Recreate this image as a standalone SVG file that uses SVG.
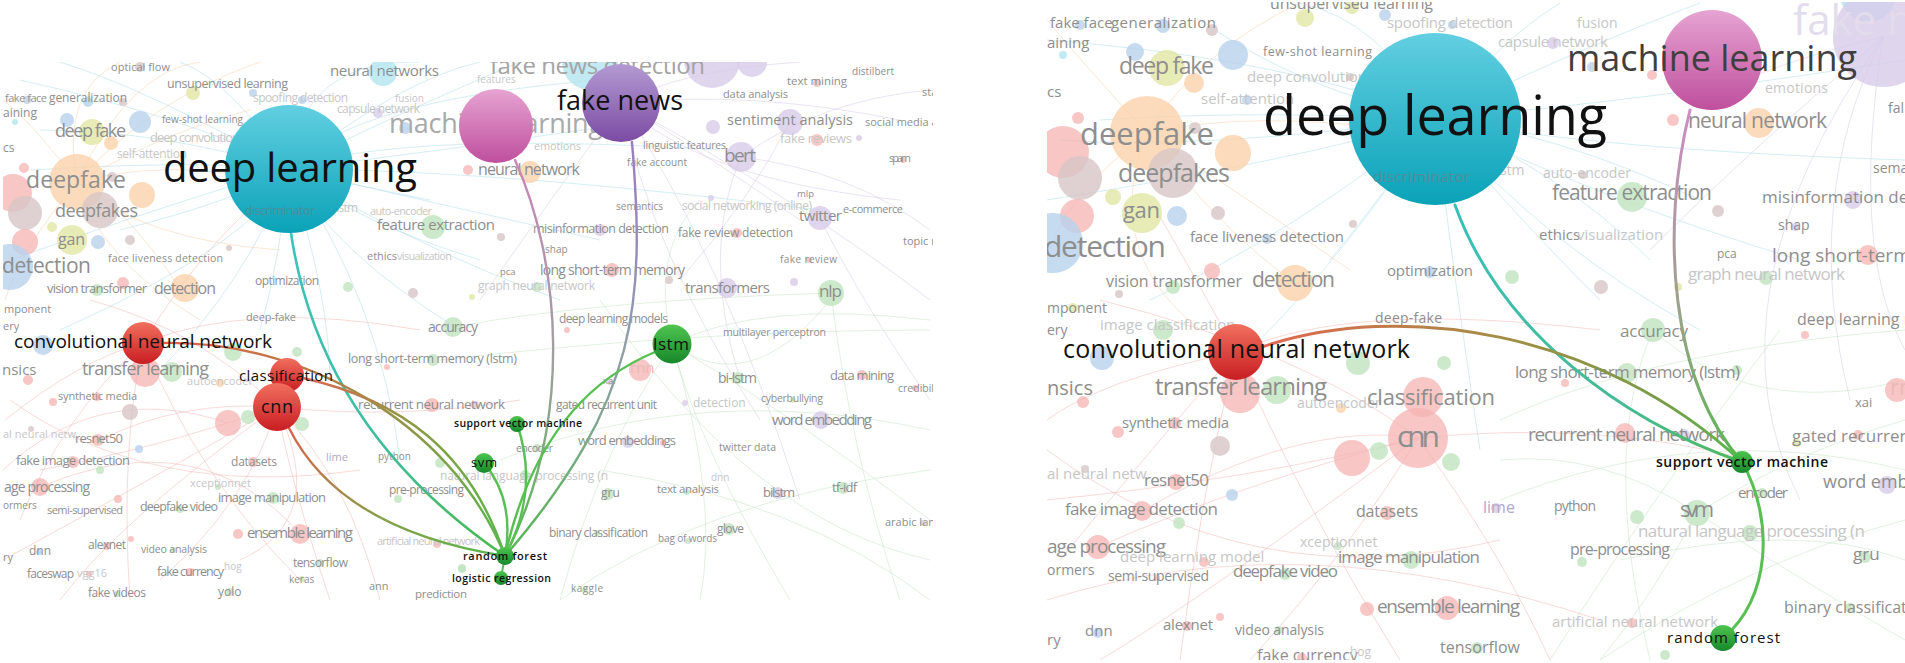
<svg xmlns="http://www.w3.org/2000/svg" width="1905" height="663" viewBox="0 0 1905 663">
<defs>
<style>
text{font-family:"Open Sans","Liberation Sans",sans-serif}
.f{fill:#8e8e8e}
.ff{fill:#c6c6c6}
.dt{fill:#4d8e98}
.k{fill:#111}
.ks{fill:#111;font-weight:600}
.bl path{fill:none;stroke-width:1;opacity:.5}
.lc{stroke:#a9dbe8}.lo{stroke:#f8cfa6}.lr{stroke:#f4b4b4}.lp{stroke:#d6c8e6}.lg{stroke:#c3e2c3}
.r{fill:#f4b3b1;opacity:.75}.o{fill:#fbcfa6;opacity:.75}.y{fill:#e1e6a2;opacity:.8}.b{fill:#b8d1ec;opacity:.8}
.p{fill:#d7cbe8;opacity:.8}.g{fill:#c1e4bf;opacity:.8}.br{fill:#d7c6c6;opacity:.8}.c{fill:#b3e5ef;opacity:.8}
.e{fill:none;stroke-linecap:round}
</style>
<clipPath id="cl"><rect x="3" y="62" width="930" height="538"/></clipPath>
<clipPath id="cr"><rect x="1047" y="2" width="858" height="658"/></clipPath>
<linearGradient id="gDL" x1="0" y1="0" x2="0" y2="1"><stop offset="0" stop-color="#62cfe1"/><stop offset="1" stop-color="#0aa2b8"/></linearGradient>
<linearGradient id="gML" x1="0" y1="0" x2="0" y2="1"><stop offset="0" stop-color="#e6a3d2"/><stop offset="1" stop-color="#bf4f9d"/></linearGradient>
<linearGradient id="gFN" x1="0" y1="0" x2="0" y2="1"><stop offset="0" stop-color="#b39ad2"/><stop offset="1" stop-color="#7b4ba3"/></linearGradient>
<linearGradient id="gR" x1="0" y1="0" x2="0" y2="1"><stop offset="0" stop-color="#f1705e"/><stop offset="1" stop-color="#c81d22"/></linearGradient>
<linearGradient id="gG" x1="0" y1="0" x2="0" y2="1"><stop offset="0" stop-color="#4fc44f"/><stop offset="1" stop-color="#16882a"/></linearGradient>
<linearGradient id="eDL" gradientUnits="userSpaceOnUse" x1="291" y1="233" x2="505" y2="556"><stop offset="0" stop-color="#3cc2bc"/><stop offset=".6" stop-color="#3fbd9c"/><stop offset="1" stop-color="#4cb84a"/></linearGradient>
<linearGradient id="eML" gradientUnits="userSpaceOnUse" x1="515" y1="160" x2="505" y2="556"><stop offset="0" stop-color="#c985b8"/><stop offset=".5" stop-color="#a0a0a0"/><stop offset="1" stop-color="#55b84f"/></linearGradient>
<linearGradient id="eFN" gradientUnits="userSpaceOnUse" x1="632" y1="142" x2="505" y2="556"><stop offset="0" stop-color="#9a7cc2"/><stop offset=".5" stop-color="#8fa0a8"/><stop offset="1" stop-color="#55b84f"/></linearGradient>
<linearGradient id="eCV" gradientUnits="userSpaceOnUse" x1="163" y1="343" x2="505" y2="556"><stop offset="0" stop-color="#e5614c"/><stop offset=".5" stop-color="#a08a45"/><stop offset="1" stop-color="#58b84c"/></linearGradient>
<linearGradient id="eCL" gradientUnits="userSpaceOnUse" x1="303" y1="378" x2="505" y2="556"><stop offset="0" stop-color="#df6450"/><stop offset=".4" stop-color="#8c9a44"/><stop offset="1" stop-color="#58b84c"/></linearGradient>
<linearGradient id="eCN" gradientUnits="userSpaceOnUse" x1="289" y1="428" x2="505" y2="556"><stop offset="0" stop-color="#d8664e"/><stop offset=".5" stop-color="#84a048"/><stop offset="1" stop-color="#58b84c"/></linearGradient>
<linearGradient id="fDL" gradientUnits="userSpaceOnUse" x1="1455" y1="205" x2="1742" y2="462"><stop offset="0" stop-color="#38c0b8"/><stop offset=".7" stop-color="#45ba90"/><stop offset="1" stop-color="#4fb85c"/></linearGradient>
<linearGradient id="fML" gradientUnits="userSpaceOnUse" x1="1690" y1="110" x2="1742" y2="462"><stop offset="0" stop-color="#cc8cc4"/><stop offset=".5" stop-color="#a0a090"/><stop offset="1" stop-color="#58b850"/></linearGradient>
<linearGradient id="fCN" gradientUnits="userSpaceOnUse" x1="1262" y1="347" x2="1742" y2="462"><stop offset="0" stop-color="#e0674f"/><stop offset=".45" stop-color="#a58c45"/><stop offset=".8" stop-color="#7a9a48"/><stop offset="1" stop-color="#58b850"/></linearGradient>
</defs>
<rect width="1905" height="663" fill="#fff"/>

<!-- LEFT PANEL BACKGROUND -->
<g id="left-bg" clip-path="url(#cl)">
<g class="bl">
<path class="lc" d="M289 169Q200 120 20 80M289 169Q180 200 10 260M289 169Q350 100 600 80M289 169Q400 130 720 150M289 169Q420 250 560 300M289 169Q250 280 150 380M289 169Q300 60 420 62M289 169Q150 90 60 62M289 169Q330 250 460 330M289 169Q500 170 820 210M289 169Q200 160 30 170M289 169Q380 300 400 460M289 169Q420 200 600 240M289 169Q230 80 180 62M289 169Q360 130 520 62M289 169Q260 240 60 330M289 169Q450 150 650 120M289 169Q350 220 480 260M289 169Q240 200 120 230M289 169Q330 180 430 200M289 169Q280 260 260 330M289 169Q400 80 480 62M289 169Q160 130 40 130M289 169Q330 300 330 380"/>
<path class="lo" d="M77 182Q150 100 260 62M77 182Q100 260 200 320M77 182Q200 150 330 200M77 182Q30 120 3 100M77 182Q140 240 280 250M77 182Q60 90 120 62M77 182Q170 130 250 110M77 182Q20 250 5 300M77 182Q120 200 180 288M77 182Q130 70 200 62"/>
<path class="lr" d="M143 343Q60 420 20 520M143 343Q200 480 300 580M277 407Q150 450 40 470M277 407Q250 500 160 580M277 407Q350 480 380 600M143 343Q250 300 420 330M277 407Q200 330 90 300M277 407Q330 520 240 560M10 400Q150 500 360 470M143 343Q80 360 5 420M277 407Q120 520 60 600M40 487Q200 420 300 534M3 560Q150 480 277 407M143 343Q200 250 260 200M277 407Q400 420 520 400M143 343Q120 450 130 600M277 407Q180 400 100 440M3 470Q100 380 228 423M277 407Q290 480 330 600"/>
<path class="lp" d="M621 103Q700 150 800 220M621 103Q750 90 900 120M621 103Q650 250 760 420M621 103Q800 200 930 300M621 103Q720 250 800 500M621 103Q550 200 480 300M741 157Q820 100 930 90M741 157Q700 250 740 380M820 218Q860 300 930 400M621 103Q680 70 800 62M790 122Q750 200 680 280M621 103Q700 180 900 200M741 157Q850 170 930 230"/>
<path class="lg" d="M672 344Q750 400 830 300M672 344Q760 300 930 320M672 344Q700 450 790 600M672 344Q600 450 560 600M672 344Q800 420 930 520M600 300Q750 520 930 560M440 360Q700 330 930 330M500 460Q700 380 930 430M831 293Q850 450 900 600M453 327Q600 300 831 293M672 344Q650 250 700 200M560 600Q700 500 930 470M672 344Q720 500 700 600M600 470Q800 500 930 600"/>
</g>
<circle class="br" cx="140" cy="67" r="5"/><circle class="y" cx="193" cy="93" r="7"/><circle class="b" cx="253" cy="93" r="4"/>
<circle class="c" cx="383" cy="72" r="14"/><circle class="b" cx="88" cy="102" r="5"/><circle class="br" cx="123" cy="102" r="4"/>
<circle class="b" cx="27" cy="100" r="4"/><circle class="b" cx="67" cy="120" r="7"/><circle class="b" cx="140" cy="122" r="11"/>
<circle class="c" cx="15" cy="122" r="3"/><circle class="y" cx="92" cy="132" r="13"/><circle class="o" cx="111" cy="143" r="7"/>
<circle class="r" cx="13" cy="193" r="19"/><circle class="br" cx="25" cy="213" r="17"/><circle class="o" cx="77" cy="182" r="28"/>
<circle class="o" cx="142" cy="195" r="13"/><circle class="br" cx="100" cy="210" r="18"/><circle class="r" cx="25" cy="242" r="13"/>
<circle class="y" cx="72" cy="240" r="15"/><circle class="b" cx="98" cy="242" r="7"/><circle class="y" cx="52" cy="227" r="5"/>
<circle class="br" cx="130" cy="240" r="5"/><circle class="b" cx="10" cy="267" r="23"/><circle class="r" cx="24" cy="168" r="5"/>
<circle class="br" cx="112" cy="177" r="5"/><circle class="o" cx="185" cy="288" r="14"/><circle class="r" cx="123" cy="283" r="6"/>
<circle class="g" cx="97" cy="290" r="6"/><circle class="g" cx="348" cy="287" r="5"/><circle class="br" cx="229" cy="248" r="3"/>
<circle class="br" cx="413" cy="293" r="5"/><circle class="g" cx="433" cy="227" r="12"/><circle class="p" cx="378" cy="113" r="5"/>
<circle class="b" cx="405" cy="128" r="6"/><circle class="r" cx="468" cy="170" r="5"/><circle class="b" cx="302" cy="100" r="4"/>
<circle class="br" cx="501" cy="237" r="4"/><circle class="o" cx="530" cy="172" r="11"/><circle class="p" cx="713" cy="127" r="7"/>
<circle class="p" cx="790" cy="122" r="13"/><circle class="p" cx="741" cy="157" r="15"/><circle class="r" cx="817" cy="83" r="4"/>
<circle class="r" cx="817" cy="140" r="6"/><circle class="p" cx="859" cy="138" r="3"/><circle class="r" cx="903" cy="160" r="3"/>
<circle class="p" cx="711" cy="198" r="3"/><circle class="p" cx="820" cy="218" r="12"/><circle class="p" cx="600" cy="230" r="6"/>
<circle class="r" cx="737" cy="233" r="5"/><circle class="r" cx="612" cy="270" r="7"/><circle class="br" cx="669" cy="280" r="4"/>
<circle class="g" cx="537" cy="287" r="5"/><circle class="y" cx="472" cy="297" r="3"/><circle class="p" cx="727" cy="288" r="10"/>
<circle class="p" cx="794" cy="282" r="4"/><circle class="g" cx="831" cy="293" r="13"/><circle class="r" cx="809" cy="260" r="3"/>
<circle class="p" cx="712" cy="60" r="28"/><circle class="p" cx="752" cy="62" r="15"/><circle class="c" cx="590" cy="62" r="28"/>
<circle class="b" cx="43" cy="345" r="10"/><circle class="g" cx="233" cy="352" r="9"/><circle class="g" cx="297" cy="352" r="5"/>
<circle class="r" cx="145" cy="372" r="15"/><circle class="g" cx="172" cy="372" r="10"/><circle class="r" cx="28" cy="380" r="5"/>
<circle class="o" cx="220" cy="383" r="4"/><circle class="r" cx="387" cy="367" r="3"/><circle class="g" cx="433" cy="360" r="6"/>
<circle class="r" cx="53" cy="402" r="4"/><circle class="r" cx="97" cy="397" r="4"/><circle class="br" cx="130" cy="412" r="8"/>
<circle class="r" cx="228" cy="423" r="13"/><circle class="g" cx="248" cy="417" r="7"/><circle class="g" cx="302" cy="424" r="7"/>
<circle class="r" cx="432" cy="405" r="7"/><circle class="br" cx="31" cy="429" r="3"/><circle class="r" cx="98" cy="440" r="6"/>
<circle class="b" cx="139" cy="449" r="4"/><circle class="r" cx="73" cy="462" r="6"/><circle class="g" cx="100" cy="470" r="4"/>
<circle class="r" cx="253" cy="462" r="5"/><circle class="g" cx="440" cy="463" r="5"/><circle class="r" cx="40" cy="487" r="9"/>
<circle class="r" cx="118" cy="499" r="4"/><circle class="g" cx="218" cy="487" r="3"/><circle class="g" cx="273" cy="498" r="6"/>
<circle class="g" cx="398" cy="499" r="4"/><circle class="g" cx="180" cy="509" r="4"/><circle class="r" cx="238" cy="534" r="5"/>
<circle class="r" cx="300" cy="534" r="10"/><circle class="r" cx="131" cy="539" r="3"/><circle class="r" cx="107" cy="546" r="4"/>
<circle class="g" cx="173" cy="550" r="3"/><circle class="b" cx="39" cy="552" r="3"/><circle class="r" cx="437" cy="544" r="4"/>
<circle class="g" cx="320" cy="563" r="4"/><circle class="g" cx="302" cy="579" r="3"/><circle class="r" cx="190" cy="572" r="4"/>
<circle class="r" cx="89" cy="574" r="3"/><circle class="g" cx="462" cy="569" r="4"/><circle class="g" cx="117" cy="594" r="3"/>
<circle class="g" cx="230" cy="592" r="4"/><circle class="g" cx="453" cy="327" r="10"/><circle class="r" cx="567" cy="330" r="3"/>
<circle class="r" cx="640" cy="370" r="11"/><circle class="p" cx="610" cy="382" r="3"/><circle class="g" cx="738" cy="378" r="6"/>
<circle class="r" cx="862" cy="375" r="5"/><circle class="r" cx="915" cy="388" r="3"/><circle class="p" cx="475" cy="405" r="4"/>
<circle class="p" cx="685" cy="403" r="3"/><circle class="y" cx="793" cy="400" r="3"/><circle class="p" cx="821" cy="420" r="9"/>
<circle class="p" cx="628" cy="442" r="6"/><circle class="r" cx="663" cy="443" r="3"/><circle class="g" cx="537" cy="448" r="4"/>
<circle class="g" cx="525" cy="475" r="5"/><circle class="g" cx="608" cy="494" r="6"/><circle class="g" cx="687" cy="492" r="3"/>
<circle class="p" cx="778" cy="493" r="6"/><circle class="g" cx="843" cy="488" r="6"/><circle class="g" cx="597" cy="533" r="3"/>
<circle class="g" cx="729" cy="529" r="6"/><circle class="g" cx="688" cy="541" r="3"/><circle class="p" cx="923" cy="523" r="3"/>
<circle class="g" cx="462" cy="568" r="4"/><circle class="g" cx="585" cy="590" r="3"/>

<text class="f" x="111" y="71" font-size="11" textLength="59">optical flow</text>
<text class="f" x="167" y="88" font-size="12.5" textLength="121">unsupervised learning</text>
<text class="f" x="330" y="76" font-size="15" textLength="109">neural networks</text>
<text class="f" x="5" y="102" font-size="11" textLength="42">fake face</text>
<text class="f" x="49" y="102" font-size="12" textLength="78">generalization</text>
<text class="f" x="3" y="117" font-size="12">aining</text>
<text class="ff" x="253" y="102" font-size="12" textLength="95">spoofing detection</text>
<text class="ff" x="395" y="102" font-size="10">fusion</text>
<text class="ff" x="337" y="113" font-size="12" textLength="83">capsule network</text>
<text class="f" x="162" y="123" font-size="10" textLength="81">few-shot learning</text>
<text x="254" y="123" font-size="12" fill="#7aa6d4">ai</text>
<text class="f" x="55" y="137" font-size="18" textLength="71">deep fake</text>
<text class="ff" x="150" y="142" font-size="13" textLength="162">deep convolutional neural netw</text>
<text class="f" x="3" y="152" font-size="12">cs</text>
<text class="ff" x="117" y="158" font-size="12" textLength="70">self-attention</text>
<text class="f" x="26" y="188" font-size="23" textLength="100">deepfake</text>
<text class="f" x="55" y="217" font-size="18" textLength="83">deepfakes</text>
<text class="f" x="58" y="245" font-size="16" textLength="27">gan</text>
<text class="f" x="2" y="273" font-size="21" textLength="89">detection</text>
<text class="f" x="108" y="262" font-size="10.5" textLength="115">face liveness detection</text>
<text class="f" x="377" y="230" font-size="15" textLength="118">feature extraction</text>
<text class="f" x="367" y="260" font-size="11" textLength="30">ethics</text>
<text class="ff" x="397" y="260" font-size="11" textLength="55">visualization</text>
<text class="f" x="255" y="285" font-size="12" textLength="64">optimization</text>
<text class="f" x="47" y="293" font-size="13" textLength="100">vision transformer</text>
<text class="f" x="154" y="294" font-size="16" textLength="62">detection</text>
<text class="ff" x="315" y="212" font-size="12" textLength="43">cnn-lstm</text>
<text class="ff" x="370" y="215" font-size="11" textLength="62">auto-encoder</text>
<text fill="#a4a4a4" x="490" y="74" font-size="24" textLength="215">fake news detection</text>
<text fill="#a9a9a9" x="389" y="133" font-size="27" textLength="214">machine learning</text>
<text class="ff" x="477" y="83" font-size="10">features</text>
<text class="ff" x="534" y="150" font-size="11" textLength="47">emotions</text>
<text class="f" x="478" y="175" font-size="16" textLength="102">neural network</text>
<text class="f" x="723" y="98" font-size="11" textLength="65">data analysis</text>
<text class="f" x="787" y="85" font-size="11.5" textLength="60">text mining</text>
<text class="f" x="852" y="75" font-size="10" textLength="42">distilbert</text>
<text class="f" x="922" y="96" font-size="11">sta</text>
<text class="f" x="727" y="125" font-size="14.5" textLength="126">sentiment analysis</text>
<text class="f" x="865" y="126" font-size="11">social media a</text>
<text class="ff" x="780" y="143" font-size="13" textLength="72">fake reviews</text>
<text class="f" x="643" y="149" font-size="10.5" textLength="83">linguistic features</text>
<text class="f" x="724" y="162" font-size="19" textLength="32">bert</text>
<text class="f" x="889" y="162" font-size="11" textLength="22">spam</text>
<text class="f" x="627" y="166" font-size="10" textLength="60">fake account</text>
<text class="f" x="797" y="197" font-size="9.5">mlp</text>
<text class="f" x="616" y="210" font-size="10" textLength="47">semantics</text>
<text class="ff" x="682" y="210" font-size="12" textLength="130">social networking (online)</text>
<text class="f" x="799" y="221" font-size="15" textLength="43">twitter</text>
<text class="f" x="843" y="213" font-size="11" textLength="60">e-commerce</text>
<text class="f" x="533" y="233" font-size="12.5" textLength="136">misinformation detection</text>
<text class="f" x="678" y="237" font-size="12" textLength="115">fake review detection</text>
<text class="f" x="903" y="245" font-size="11">topic m</text>
<text class="f" x="545" y="253" font-size="10">shap</text>
<text class="f" x="780" y="263" font-size="10" textLength="57">fake review</text>
<text class="f" x="500" y="275" font-size="9.5">pca</text>
<text class="f" x="540" y="275" font-size="14" textLength="145">long short-term memory</text>
<text class="ff" x="478" y="290" font-size="12" textLength="117">graph neural network</text>
<text class="f" x="685" y="293" font-size="15" textLength="85">transformers</text>
<text class="f" x="819" y="297" font-size="17" textLength="23">nlp</text>
<text class="f" x="4" y="313" font-size="11">mponent</text>
<text class="f" x="3" y="330" font-size="11">ery</text>
<text class="f" x="246" y="321" font-size="11" textLength="50">deep-fake</text>
<text class="f" x="428" y="332" font-size="14" textLength="50">accuracy</text>
<text class="f" x="2" y="375" font-size="15">nsics</text>
<text class="f" x="82" y="375" font-size="18" textLength="127">transfer learning</text>
<text class="ff" x="187" y="385" font-size="11" textLength="66">autoencoder</text>
<text class="f" x="348" y="363" font-size="12.5" textLength="169">long short-term memory (lstm)</text>
<text class="f" x="58" y="400" font-size="11" textLength="79">synthetic media</text>
<text class="f" x="358" y="409" font-size="13.5" textLength="147">recurrent neural network</text>
<text class="f" x="75" y="443" font-size="13" textLength="48">resnet50</text>
<text class="ff" x="3" y="438" font-size="11">al neural netw</text>
<text class="f" x="16" y="465" font-size="13" textLength="114">fake image detection</text>
<text class="f" x="231" y="466" font-size="12" textLength="46">datasets</text>
<text x="326" y="461" font-size="11" fill="#b4a6cc">lime</text>
<text class="f" x="378" y="460" font-size="10">python</text>
<text class="f" x="4" y="492" font-size="14" textLength="86">age processing</text>
<text class="ff" x="190" y="487" font-size="11">xceptionnet</text>
<text class="f" x="218" y="502" font-size="13" textLength="108">image manipulation</text>
<text class="f" x="389" y="494" font-size="12" textLength="75">pre-processing</text>
<text class="f" x="3" y="509" font-size="10">ormers</text>
<text class="f" x="47" y="514" font-size="11" textLength="76">semi-supervised</text>
<text class="f" x="140" y="511" font-size="12.5" textLength="78">deepfake video</text>
<text class="f" x="247" y="538" font-size="15" textLength="106">ensemble learning</text>
<text class="ff" x="377" y="545" font-size="11" textLength="103">artificial neural network</text>
<text class="f" x="29" y="555" font-size="12">dnn</text>
<text class="f" x="88" y="549" font-size="12" textLength="38">alexnet</text>
<text class="f" x="141" y="553" font-size="10.5" textLength="66">video analysis</text>
<text class="f" x="3" y="561" font-size="11">ry</text>
<text class="f" x="293" y="567" font-size="12" textLength="55">tensorflow</text>
<text class="f" x="289" y="583" font-size="10">keras</text>
<text class="f" x="27" y="578" font-size="12" textLength="47">faceswap</text>
<text class="ff" x="77" y="577" font-size="11">vgg16</text>
<text class="f" x="157" y="576" font-size="12.5" textLength="67">fake currency</text>
<text class="ff" x="224" y="570" font-size="10">hog</text>
<text class="f" x="369" y="590" font-size="11">ann</text>
<text class="f" x="415" y="598" font-size="11.5" textLength="52">prediction</text>
<text class="f" x="88" y="597" font-size="12" textLength="58">fake videos</text>
<text class="f" x="218" y="596" font-size="12">yolo</text>
<text class="f" x="559" y="323" font-size="12" textLength="109">deep learning models</text>
<text class="f" x="723" y="336" font-size="10.5" textLength="103">multilayer perceptron</text>
<text x="630" y="373" font-size="15" fill="#e9b9b9">rnn</text>
<text class="f" x="718" y="383" font-size="14" textLength="39">bi-lstm</text>
<text class="f" x="830" y="380" font-size="13" textLength="64">data mining</text>
<text class="f" x="898" y="392" font-size="10.5">credibil</text>
<text class="f" x="603" y="384" font-size="9.5">xai</text>
<text class="f" x="556" y="409" font-size="12" textLength="101">gated recurrent unit</text>
<text class="ff" x="693" y="407" font-size="12">detection</text>
<text class="f" x="761" y="402" font-size="10.5" textLength="62">cyberbullying</text>
<text class="f" x="772" y="425" font-size="15" textLength="100">word embedding</text>
<text class="f" x="578" y="445" font-size="13" textLength="98">word embeddings</text>
<text class="f" x="516" y="452" font-size="10.5" textLength="37">encoder</text>
<text class="f" x="719" y="451" font-size="10.5" textLength="57">twitter data</text>
<text class="ff" x="440" y="480" font-size="12" textLength="168">natural language processing (n</text>
<text class="ff" x="711" y="481" font-size="10">dnn</text>
<text class="f" x="601" y="497" font-size="12">gru</text>
<text class="f" x="657" y="493" font-size="11.5" textLength="62">text analysis</text>
<text class="f" x="763" y="497" font-size="13" textLength="32">bilstm</text>
<text class="f" x="832" y="492" font-size="13" textLength="25">tf-idf</text>
<text class="f" x="885" y="526" font-size="11">arabic lan</text>
<text class="f" x="549" y="537" font-size="12" textLength="99">binary classification</text>
<text class="f" x="717" y="533" font-size="12" textLength="27">glove</text>
<text class="f" x="658" y="542" font-size="10" textLength="59">bag of words</text>
<text class="f" x="571" y="592" font-size="10" textLength="32">kaggle</text>
</g>

<!-- LEFT CONNECTORS -->
<g id="left-edges" class="e">
<path stroke="url(#eDL)" stroke-width="2.6" d="M291 233Q320 430 505 556"/>
<path stroke="url(#eML)" stroke-width="2.4" d="M515 160C560 260 575 420 505 556"/>
<path stroke="url(#eFN)" stroke-width="2.4" d="M632 142C645 300 640 400 505 556"/>
<path stroke="url(#eCV)" stroke-width="2.4" d="M163 343C300 340 450 420 505 556"/>
<path stroke="url(#eCL)" stroke-width="2.4" d="M303 378C400 400 470 450 505 556"/>
<path stroke="url(#eCN)" stroke-width="2.4" d="M289 428Q340 530 505 556"/>
<path stroke="#58bf52" stroke-width="2.4" d="M655 352Q540 400 505 556"/>
<path stroke="#58bf52" stroke-width="2.4" d="M517 424Q540 490 505 556"/>
<path stroke="#58bf52" stroke-width="2.4" d="M484 463Q515 500 505 556"/>
<path stroke="#58bf52" stroke-width="2" d="M505 556L501 578"/>
</g>

<!-- LEFT NODES -->
<g id="n-dl-l"><circle cx="289" cy="169" r="64" fill="url(#gDL)"/><text class="dt" x="245" y="215" font-size="12.5" textLength="70">discriminator</text><text class="k" x="163" y="182" font-size="40" textLength="254">deep learning</text></g>
<g id="n-ml-l"><circle cx="496" cy="126" r="37" fill="url(#gML)"/></g>
<g id="n-fn-l"><circle cx="621" cy="103" r="39" fill="url(#gFN)"/><text class="k" x="557" y="110" font-size="27" textLength="126">fake news</text></g>
<g id="n-cnnfull-l"><circle cx="143" cy="343" r="21" fill="url(#gR)"/><text class="k" x="14" y="348" font-size="19" textLength="258">convolutional neural network</text></g>
<g id="n-class-l"><circle cx="287" cy="375" r="17" fill="url(#gR)"/><text class="k" x="239" y="381" font-size="15" textLength="94">classification</text></g>
<g id="n-cnn-l"><circle cx="277" cy="407" r="24" fill="url(#gR)"/><text class="k" x="261" y="413" font-size="18" textLength="32">cnn</text></g>
<g id="n-lstm-l"><circle cx="672" cy="344" r="19.5" fill="url(#gG)"/><text class="k" x="653" y="350" font-size="17" textLength="36">lstm</text></g>
<g id="n-svmfull-l"><circle cx="517" cy="424" r="8" fill="url(#gG)"/><text class="ks" x="454" y="427" font-size="10.5" textLength="128">support vector machine</text></g>
<g id="n-svm-l"><circle cx="484" cy="463" r="10" fill="url(#gG)"/><text class="k" x="471" y="467" font-size="13" textLength="26">svm</text></g>
<g id="n-rf-l"><circle cx="505" cy="556" r="9" fill="url(#gG)"/><text class="ks" x="463" y="560" font-size="11" textLength="84">random forest</text></g>
<g id="n-lr-l"><circle cx="501" cy="578" r="7" fill="url(#gG)"/><text class="ks" x="452" y="582" font-size="10.5" textLength="99">logistic regression</text></g>

<!-- RIGHT PANEL BACKGROUND -->
<g id="right-bg" clip-path="url(#cr)">
<g class="bl">
<path class="lc" d="M1435 119Q1300 60 1047 40M1435 119Q1300 160 1047 200M1435 119Q1550 60 1700 3M1435 119Q1600 150 1905 160M1435 119Q1550 250 1700 330M1435 119Q1350 250 1250 350M1435 119Q1500 200 1600 300M1435 119Q1250 110 1100 120M1435 119Q1650 100 1905 60M1435 119Q1450 250 1480 450M1435 119Q1380 20 1300 3M1435 119Q1600 200 1800 260M1435 119Q1300 230 1150 300M1435 119Q1550 130 1700 200M1435 119Q1300 90 1200 20M1435 119Q1380 200 1330 260M1435 119Q1560 170 1650 260M1435 119Q1500 40 1560 3M1435 119Q1200 150 1060 140"/>
<path class="lo" d="M1147 133Q1200 50 1300 3M1147 133Q1100 250 1200 330M1147 133Q1250 200 1350 270M1147 133Q1080 60 1047 20M1147 133Q1250 110 1400 130M1147 133Q1060 200 1047 260M1147 133Q1220 230 1295 283"/>
<path class="lr" d="M1236 352Q1150 450 1060 560M1236 352Q1300 500 1400 660M1418 438Q1250 480 1047 500M1418 438Q1350 550 1250 660M1418 438Q1500 550 1550 660M1236 352Q1350 300 1600 330M1418 438Q1300 350 1100 300M1047 450Q1250 600 1500 540M1047 600Q1300 520 1600 620M1236 352Q1100 380 1047 420M1418 438Q1200 600 1100 660M1098 547Q1250 480 1418 438M1236 352Q1180 250 1150 200M1418 438Q1300 420 1142 511M1236 352Q1200 500 1180 660M1418 438Q1600 420 1750 460"/>
<path class="lp" d="M1883 37Q1800 200 1850 400M1883 37Q1750 150 1650 250M1883 37Q1700 300 1800 500M1883 37Q1850 250 1905 350M1883 37Q1780 60 1700 100"/>
<path class="lg" d="M1697 513Q1800 450 1905 420M1697 513Q1650 600 1600 660M1697 513Q1800 580 1905 640M1653 330Q1750 420 1905 380M1500 500Q1700 420 1905 470M1550 660Q1650 500 1780 330M1620 560Q1800 520 1905 560M1500 420Q1650 350 1905 330M1600 660Q1750 560 1905 520M1697 513Q1600 450 1500 460M1653 330Q1600 450 1650 660"/>
</g>
<circle class="y" cx="1305" cy="18" r="9"/><circle class="b" cx="1385" cy="15" r="6"/><circle class="y" cx="1352" cy="7" r="7"/>
<circle class="b" cx="1080" cy="25" r="5"/><circle class="b" cx="1163" cy="26" r="7"/><circle class="br" cx="1212" cy="30" r="6"/>
<circle class="c" cx="1063" cy="55" r="4"/><circle class="b" cx="1135" cy="52" r="9"/><circle class="b" cx="1233" cy="55" r="15"/>
<circle class="b" cx="1452" cy="25" r="4"/><circle class="y" cx="1167" cy="68" r="18"/><circle class="o" cx="1194" cy="83" r="10"/>
<circle class="br" cx="1350" cy="77" r="4"/><circle class="b" cx="1247" cy="100" r="5"/><circle class="r" cx="1078" cy="118" r="6"/>
<circle class="br" cx="1195" cy="128" r="6"/><circle class="r" cx="1063" cy="152" r="26"/><circle class="br" cx="1080" cy="178" r="22"/>
<circle class="o" cx="1147" cy="133" r="37"/><circle class="o" cx="1233" cy="153" r="18"/><circle class="br" cx="1173" cy="173" r="25"/>
<circle class="y" cx="1113" cy="197" r="8"/><circle class="r" cx="1077" cy="216" r="17"/><circle class="y" cx="1142" cy="213" r="20"/>
<circle class="b" cx="1177" cy="216" r="10"/><circle class="br" cx="1218" cy="213" r="7"/><circle class="b" cx="1053" cy="243" r="30"/>
<circle class="b" cx="1267" cy="239" r="5"/><circle class="br" cx="1353" cy="224" r="4"/><circle class="r" cx="1212" cy="271" r="8"/>
<circle class="g" cx="1173" cy="287" r="7"/><circle class="br" cx="1119" cy="294" r="4"/><circle class="o" cx="1295" cy="283" r="18"/>
<circle class="b" cx="1430" cy="272" r="6"/><circle class="y" cx="1073" cy="308" r="5"/>
<circle class="p" cx="1553" cy="43" r="6"/><circle class="b" cx="1592" cy="67" r="5"/><circle class="r" cx="1652" cy="75" r="5"/>
<circle class="r" cx="1673" cy="120" r="6"/><circle class="o" cx="1759" cy="123" r="15"/><circle class="c" cx="1868" cy="-6" r="28"/>
<circle class="p" cx="1883" cy="37" r="50"/><circle class="br" cx="1583" cy="175" r="4"/><circle class="g" cx="1632" cy="197" r="15"/>
<circle class="br" cx="1718" cy="211" r="6"/><circle class="p" cx="1853" cy="200" r="9"/><circle class="p" cx="1795" cy="227" r="4"/>
<circle class="r" cx="1868" cy="255" r="10"/><circle class="g" cx="1512" cy="277" r="7"/><circle class="br" cx="1601" cy="287" r="7"/>
<circle class="y" cx="1678" cy="287" r="4"/><circle class="g" cx="1766" cy="278" r="7"/><circle class="g" cx="1653" cy="330" r="12"/>
<circle class="g" cx="1737" cy="370" r="5"/><circle class="g" cx="1627" cy="373" r="10"/><circle class="r" cx="1565" cy="383" r="4"/>
<circle class="r" cx="1805" cy="335" r="4"/><circle class="r" cx="1897" cy="390" r="12"/><circle class="r" cx="1625" cy="433" r="10"/>
<circle class="p" cx="1684" cy="435" r="6"/><circle class="r" cx="1858" cy="435" r="5"/><circle class="y" cx="1797" cy="443" r="4"/>
<circle class="p" cx="1887" cy="485" r="9"/><circle class="g" cx="1762" cy="493" r="5"/><circle class="p" cx="1496" cy="508" r="5"/>
<circle class="g" cx="1637" cy="517" r="7"/><circle class="g" cx="1697" cy="513" r="13"/><circle class="g" cx="1750" cy="533" r="8"/>
<circle class="g" cx="1865" cy="557" r="6"/><circle class="g" cx="1582" cy="562" r="5"/><circle class="r" cx="1632" cy="623" r="5"/>
<circle class="g" cx="1850" cy="608" r="5"/><circle class="g" cx="1665" cy="655" r="5"/><circle class="g" cx="1477" cy="648" r="6"/>
<circle class="b" cx="1102" cy="358" r="12"/><circle class="g" cx="1163" cy="330" r="10"/><circle class="r" cx="1240" cy="393" r="20"/>
<circle class="g" cx="1277" cy="390" r="14"/><circle class="g" cx="1358" cy="363" r="12"/><circle class="g" cx="1444" cy="363" r="7"/>
<circle class="r" cx="1423" cy="397" r="20"/><circle class="r" cx="1418" cy="438" r="30"/><circle class="r" cx="1352" cy="458" r="18"/>
<circle class="g" cx="1379" cy="451" r="9"/><circle class="g" cx="1451" cy="462" r="9"/><circle class="r" cx="1083" cy="402" r="6"/>
<circle class="o" cx="1341" cy="408" r="5"/><circle class="r" cx="1175" cy="423" r="6"/><circle class="r" cx="1118" cy="432" r="6"/>
<circle class="br" cx="1220" cy="446" r="10"/><circle class="br" cx="1085" cy="469" r="4"/><circle class="r" cx="1176" cy="482" r="8"/>
<circle class="b" cx="1232" cy="495" r="6"/><circle class="r" cx="1142" cy="511" r="10"/><circle class="g" cx="1179" cy="523" r="6"/>
<circle class="r" cx="1387" cy="513" r="7"/><circle class="r" cx="1098" cy="547" r="12"/><circle class="g" cx="1338" cy="546" r="4"/>
<circle class="r" cx="1204" cy="562" r="5"/><circle class="g" cx="1411" cy="560" r="9"/><circle class="g" cx="1285" cy="574" r="6"/>
<circle class="r" cx="1157" cy="578" r="3"/><circle class="r" cx="1367" cy="609" r="7"/><circle class="r" cx="1447" cy="608" r="12"/>
<circle class="r" cx="1220" cy="617" r="4"/><circle class="r" cx="1187" cy="626" r="5"/><circle class="g" cx="1279" cy="630" r="4"/>
<circle class="b" cx="1098" cy="633" r="5"/><circle class="r" cx="1302" cy="658" r="5"/>

<text class="f" x="1270" y="9" font-size="16" textLength="163">unsupervised learning</text>
<text class="f" x="1050" y="28" font-size="15">fake face</text>
<text class="f" x="1111" y="28" font-size="15" textLength="105">generalization</text>
<text class="f" x="1047" y="48" font-size="15">aining</text>
<text class="ff" x="1387" y="28" font-size="15" textLength="126">spoofing detection</text>
<text class="ff" x="1577" y="28" font-size="14">fusion</text>
<text class="ff" x="1498" y="47" font-size="15" textLength="110">capsule network</text>
<text class="f" x="1263" y="56" font-size="12.5" textLength="109">few-shot learning</text>
<text x="1388" y="55" font-size="16" fill="#7aa6d4">ai</text>
<text class="f" x="1119" y="74" font-size="23" textLength="95">deep fake</text>
<text class="ff" x="1247" y="82" font-size="15" textLength="218">deep convolutional neural netw</text>
<text class="f" x="1047" y="97" font-size="15">cs</text>
<text class="ff" x="1201" y="104" font-size="15">self-attention</text>
<text class="f" x="1080" y="145" font-size="31" textLength="134">deepfake</text>
<text class="f" x="1118" y="182" font-size="25" textLength="112">deepfakes</text>
<text class="f" x="1123" y="218" font-size="22" textLength="37">gan</text>
<text class="f" x="1044" y="257" font-size="30" textLength="122">detection</text>
<text class="f" x="1190" y="242" font-size="15" textLength="154">face liveness detection</text>
<text class="f" x="1387" y="276" font-size="15" textLength="86">optimization</text>
<text class="f" x="1106" y="287" font-size="16" textLength="136">vision transformer</text>
<text class="f" x="1252" y="287" font-size="21" textLength="83">detection</text>
<text class="f" x="1047" y="313" font-size="14">mponent</text>
<text class="f" x="1375" y="323" font-size="14" textLength="67">deep-fake</text>
<text x="1793" y="35" font-size="42" fill="#e3dcec">fake news</text>
<text class="ff" x="1765" y="93" font-size="14" textLength="63">emotions</text>
<text class="f" x="1688" y="128" font-size="21" textLength="139">neural network</text>
<text class="f" x="1888" y="113" font-size="14">fal</text>
<text class="ff" x="1468" y="175" font-size="14">cnn-lstm</text>
<text class="ff" x="1543" y="178" font-size="14">auto-encoder</text>
<text class="f" x="1552" y="200" font-size="21" textLength="160">feature extraction</text>
<text class="f" x="1873" y="173" font-size="14">sema</text>
<text class="f" x="1762" y="203" font-size="17">misinformation detection</text>
<text class="f" x="1778" y="230" font-size="14">shap</text>
<text class="f" x="1539" y="240" font-size="15">ethics</text>
<text class="ff" x="1577" y="240" font-size="15">visualization</text>
<text class="f" x="1717" y="258" font-size="12">pca</text>
<text class="f" x="1772" y="262" font-size="19">long short-term memory</text>
<text class="ff" x="1688" y="280" font-size="17" textLength="157">graph neural network</text>
<text class="f" x="1797" y="325" font-size="16">deep learning models</text>
<text class="f" x="1620" y="337" font-size="17" textLength="68">accuracy</text>
<text class="f" x="1047" y="335" font-size="14">ery</text>
<text class="ff" x="1100" y="330" font-size="15">image classification</text>
<text class="f" x="1047" y="395" font-size="20">nsics</text>
<text class="f" x="1155" y="395" font-size="24" textLength="172">transfer learning</text>
<text class="ff" x="1297" y="408" font-size="14">autoencoder</text>
<text class="f" x="1367" y="405" font-size="22" textLength="128">classification</text>
<text class="f" x="1397" y="447" font-size="30" textLength="43">cnn</text>
<text class="f" x="1122" y="428" font-size="15" textLength="107">synthetic media</text>
<text class="ff" x="1047" y="479" font-size="15">al neural netw</text>
<text class="f" x="1144" y="486" font-size="17" textLength="65">resnet50</text>
<text class="f" x="1065" y="515" font-size="17" textLength="153">fake image detection</text>
<text class="f" x="1356" y="517" font-size="16" textLength="62">datasets</text>
<text class="f" x="1047" y="553" font-size="19" textLength="119">age processing</text>
<text class="ff" x="1300" y="547" font-size="14">xceptionnet</text>
<text class="ff" x="1120" y="562" font-size="15">deep learning model</text>
<text class="f" x="1338" y="563" font-size="17" textLength="142">image manipulation</text>
<text class="f" x="1047" y="575" font-size="14">ormers</text>
<text class="f" x="1108" y="581" font-size="14" textLength="101">semi-supervised</text>
<text class="f" x="1233" y="577" font-size="17" textLength="105">deepfake video</text>
<text class="f" x="1377" y="613" font-size="19" textLength="143">ensemble learning</text>
<text class="f" x="1085" y="636" font-size="15">dnn</text>
<text class="f" x="1047" y="645" font-size="15">ry</text>
<text class="f" x="1163" y="630" font-size="15" textLength="50">alexnet</text>
<text class="f" x="1235" y="635" font-size="14" textLength="89">video analysis</text>
<text class="f" x="1257" y="661" font-size="16">fake currency</text>
<text class="ff" x="1350" y="656" font-size="12">hog</text>
<text class="f" x="1440" y="653" font-size="16" textLength="80">tensorflow</text>
<text class="f" x="1515" y="378" font-size="17" textLength="225">long short-term memory (lstm)</text>
<text class="f" x="1528" y="441" font-size="19" textLength="197">recurrent neural network</text>
<text class="f" x="1855" y="407" font-size="13">xai</text>
<text x="1890" y="395" font-size="22" fill="#e9b9b9">rnn</text>
<text class="f" x="1792" y="442" font-size="17">gated recurrent unit</text>
<text class="f" x="1823" y="488" font-size="18">word embedding</text>
<text class="f" x="1738" y="498" font-size="15" textLength="50">encoder</text>
<text x="1483" y="513" font-size="16" fill="#b4a6cc">lime</text>
<text class="f" x="1554" y="511" font-size="14" textLength="42">python</text>
<text class="f" x="1680" y="517" font-size="22" textLength="34">svm</text>
<text class="ff" x="1638" y="537" font-size="17" textLength="227">natural language processing (n</text>
<text class="f" x="1570" y="555" font-size="16" textLength="100">pre-processing</text>
<text class="f" x="1853" y="560" font-size="17">gru</text>
<text class="f" x="1784" y="613" font-size="16">binary classification</text>
<text class="ff" x="1552" y="627" font-size="15">artificial neural network</text>
</g>

<!-- RIGHT CONNECTORS -->
<g id="right-edges" class="e">
<path stroke="url(#fDL)" stroke-width="3" d="M1455 205C1500 330 1620 420 1742 462"/>
<path stroke="url(#fML)" stroke-width="3" d="M1690 110C1660 230 1670 380 1742 462"/>
<path stroke="url(#fCN)" stroke-width="3" d="M1262 347C1400 300 1600 330 1742 462"/>
<path stroke="#58bf52" stroke-width="3" d="M1742 462C1775 520 1770 600 1723 638"/>
</g>

<!-- RIGHT NODES -->
<g id="n-dl-r"><circle cx="1435" cy="119" r="86" fill="url(#gDL)"/><text class="dt" x="1373" y="182" font-size="15" textLength="97">discriminator</text><text class="k" x="1263" y="135" font-size="54" textLength="344">deep learning</text></g>
<g id="n-ml-r"><circle cx="1712" cy="60" r="50" fill="url(#gML)"/><text fill="#3f3f3f" x="1567" y="71" font-size="36" textLength="290">machine learning</text></g>
<g id="n-cnnfull-r"><circle cx="1236" cy="352" r="28" fill="url(#gR)"/><text class="k" x="1063" y="358" font-size="25" textLength="347">convolutional neural network</text></g>
<g id="n-svmfull-r"><circle cx="1742" cy="462" r="11" fill="url(#gG)"/><text class="ks" x="1656" y="467" font-size="14" textLength="172">support vector machine</text></g>
<g id="n-rf-r"><circle cx="1723" cy="638" r="13" fill="url(#gG)"/><text class="k" x="1667" y="643" font-size="15" textLength="113">random forest</text></g>
</svg>
